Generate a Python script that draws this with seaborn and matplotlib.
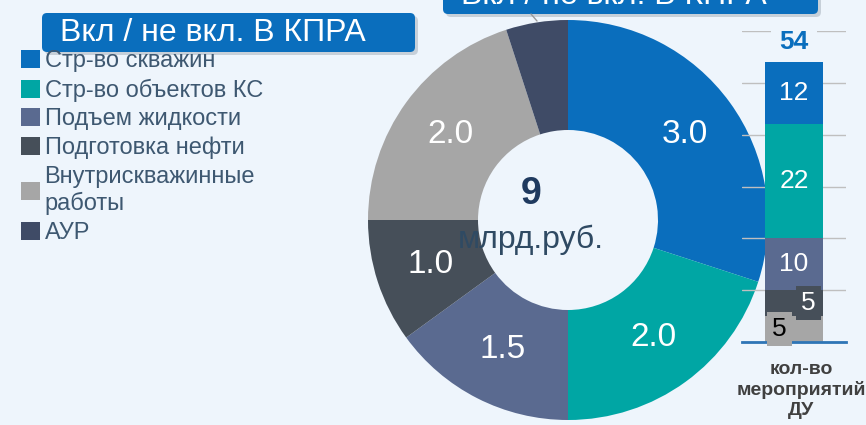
import matplotlib
matplotlib.use("Agg")
import numpy as np
import matplotlib.pyplot as plt
import seaborn as sns
from matplotlib.patches import FancyBboxPatch, Patch
from matplotlib.lines import Line2D
from matplotlib.transforms import IdentityTransform

# data
categories = ['Стр-во скважин', 'Стр-во объектов КС', 'Подъем жидкости',
              'Подготовка нефти', 'Внутрискважинные\nработы', 'АУР']
colors = ['#0A6EBD', '#00A6A4', '#5A6A90', '#464F59', '#A6A6A6', '#3F4B66']
cost = [3.0, 2.0, 1.5, 1.0, 2.0, 0.5]      # млрд.руб.
events = [12, 22, 10, 5, 5]                # кол-во мероприятий ДУ (без АУР)
total_cost = '9'
cost_unit = 'млрд.руб.'
title = 'Вкл / не вкл. В КПРА'
bar_label = 'кол-во\nмероприятий\nДУ'

W, H = 866, 425
BG = '#EEF5FC'

sns.set_style('white')
plt.rcParams['font.family'] = ['Liberation Sans', 'DejaVu Sans']

fig = plt.figure(figsize=(W / 100, H / 100), dpi=100, facecolor=BG)


def fx(x):
    return x / W


def fy(y):
    return 1 - y / H


# donut
ax = fig.add_axes([fx(368), fy(420), 400 / W, 400 / H])
ax.set_facecolor('none')
ax.pie(cost, colors=colors, startangle=90, counterclock=False,
       wedgeprops=dict(width=0.55, linewidth=0),
       autopct=lambda p: f'{p * sum(cost) / 100:.1f}' if p > 6 else '',
       pctdistance=0.725, textprops=dict(color='white', fontsize=24))
ax.set_xlim(-1, 1)
ax.set_ylim(-1, 1)
ax.text(-0.185, 0.13, total_cost, ha='center', va='center', fontsize=27,
        fontweight='bold', color='#1F3A5F')
ax.text(-0.185, -0.10, cost_unit, ha='center', va='center', fontsize=23,
        color='#2F4A63')

# stacked bar with events
bx = fig.add_axes([fx(742), fy(342), 104 / W, 311 / H], zorder=3)
bx.set_facecolor('none')
order = list(range(len(events)))[::-1]          # bottom -> top
tops = np.cumsum([events[i] for i in order])
for i, top in sorted(zip(order, tops), key=lambda t: -t[1]):
    sns.barplot(x=['ДУ'], y=[top], color=colors[i], saturation=1, width=0.55,
                linewidth=0, ax=bx)

label_style = {0: (0, 'white', None), 1: (0, 'white', None), 2: (0, 'white', None),
               3: (0.14, 'white', colors[3]), 4: (-0.14, 'black', colors[4])}
for i, top in zip(order, tops):
    dx, tc, box = label_style[i]
    kw = {}
    if box:
        kw['bbox'] = dict(boxstyle='square,pad=0.2', fc=box, ec='none')
    bx.text(dx, top - events[i] / 2, str(events[i]), ha='center', va='center',
            fontsize=19, color=tc, **kw)
bx.text(0, 57.9, str(sum(events)), ha='center', va='center', fontsize=19,
        fontweight='bold', color=colors[0],
        bbox=dict(boxstyle='square,pad=0.3', fc=BG, ec='none'))

bx.set_ylim(0, 60)
bx.set_xlim(-0.5, 0.5)
bx.set_yticks(range(0, 61, 10))
bx.set_xticks([])
bx.set_xlabel('')
bx.set_ylabel('')
bx.tick_params(left=False, labelleft=False)
bx.yaxis.grid(True, color='#BFBFBF', lw=1)
bx.set_axisbelow(True)
for s in ['left', 'right', 'top']:
    bx.spines[s].set_visible(False)
bx.spines['bottom'].set_color('#2E75B6')
bx.spines['bottom'].set_linewidth(2)

fig.text(fx(801), fy(390), bar_label, ha='center', va='center', fontsize=14,
         fontweight='bold', color='#404040', linespacing=1.2)

# legend
handles = [Patch(fc=c, ec='none') for c in colors]
leg = fig.legend(handles, categories, loc='upper left',
                 bbox_to_anchor=(fx(21), fy(50)), frameon=False, fontsize=17,
                 handlelength=0.8, handleheight=0.8, handletextpad=0.2,
                 labelspacing=0.27, borderpad=0, borderaxespad=0,
                 labelcolor='#3E5871')
leg.get_texts()[4].set_linespacing(1.25)

# title boxes
tr = IdentityTransform()
for x0, y0, x1, y1, tx, ty in [(42, 13, 415, 52, 60, 33), (443, -25, 818, 14, 461, -4)]:
    fig.add_artist(FancyBboxPatch((x0 + 3, H - y1 - 3), x1 - x0, y1 - y0,
                                  boxstyle='round,pad=0,rounding_size=5',
                                  fc='#7F8C99', ec='none', alpha=0.35, transform=tr))
    fig.add_artist(FancyBboxPatch((x0, H - y1), x1 - x0, y1 - y0,
                                  boxstyle='round,pad=0,rounding_size=5',
                                  fc='#0A6EBD', ec='none', transform=tr))
    fig.text(fx(tx), fy(ty), title, ha='left', va='center', fontsize=23,
             color='white')
fig.add_artist(Line2D([fx(531), fx(537)], [fy(14), fy(21)], color='#9A9A9A', lw=1))

fig.savefig('out.png', dpi=100, facecolor=BG)
